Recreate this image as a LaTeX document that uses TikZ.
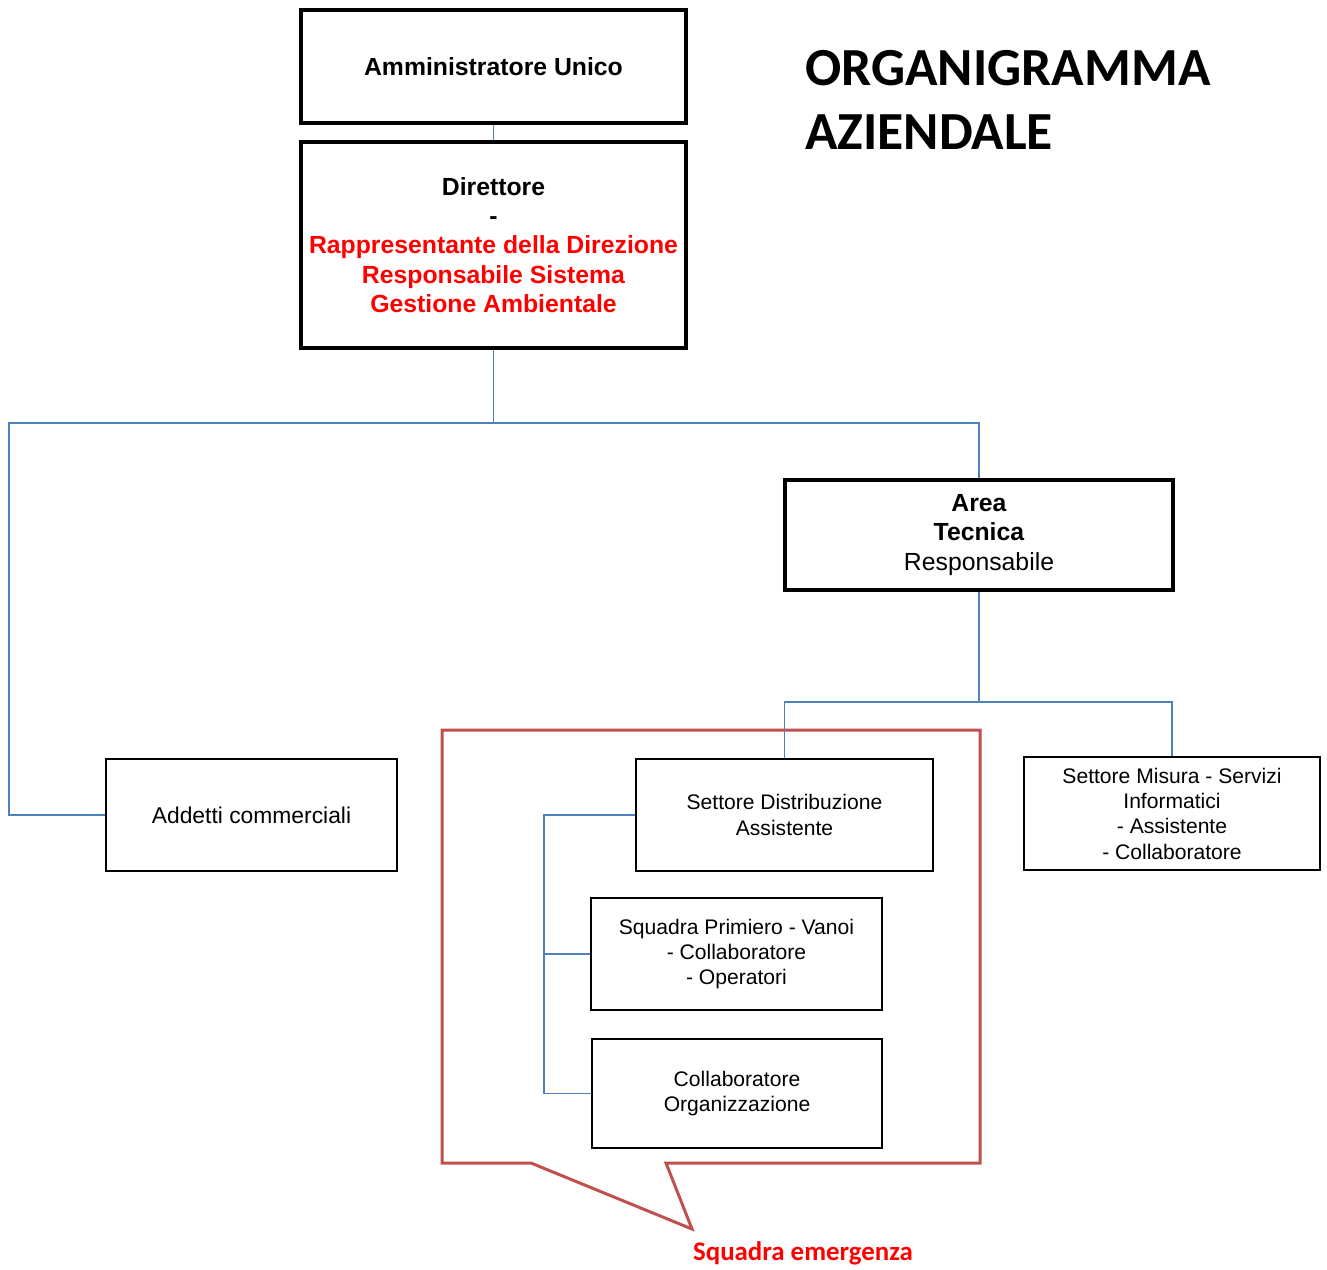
\documentclass[tikz,border=0pt]{standalone}
\usepackage{fontspec}
\setmainfont{Liberation Sans}
\newfontfamily\titlefont{Carlito}
\usepackage{tikz}
\definecolor{linkblue}{RGB}{79,129,189}
\definecolor{calloutred}{RGB}{192,80,77}
\tikzset{
  box/.style = {draw=black, fill=white, align=center, inner sep=2pt,
    font=\fontsize{12}{14.4}\selectfont, line width=1.4pt},
  bigbox/.style = {box, line width=2.3pt,
    font=\fontsize{14.1}{16.6}\selectfont},
  link/.style = {draw=linkblue, line width=0.75pt},
  callout/.style = {draw=calloutred, line width=1.7pt, line join=miter}
}

\begin{document}
\begin{tikzpicture}[x=0.02cm, y=-0.02cm]
    \useasboundingbox (0,0) rectangle (1327,1269);
    % squadra emergenza
    \draw [callout] (442,730) -- (980,730) -- (980,1163) -- (666,1163)
        -- (692,1229) -- (531,1163) -- (442,1163) -- cycle;
    \node [text=red, font=\titlefont\bfseries\fontsize{15.3}{18}\selectfont]
        (emerg) at (803,1253) {Squadra emergenza};
    % title
    \node [anchor=west, align=left, inner sep=0pt,
        font=\titlefont\bfseries\fontsize{30.5}{36.5}\selectfont]
        (title) at (805,100) {ORGANIGRAMMA\\AZIENDALE};
    % boxes
    \node [bigbox, minimum width=385*0.02cm, minimum height=113*0.02cm]
        (admin) at (493.5,66.5) {\textbf{Amministratore Unico}};
    \node [bigbox, minimum width=385*0.02cm, minimum height=206*0.02cm]
        (dir) at (493.5,245) {\textbf{Direttore}\\\textbf{-}\\
        \textcolor{red}{\textbf{Rappresentante della Direzione}}\\
        \textcolor{red}{\textbf{Responsabile Sistema}}\\
        \textcolor{red}{\textbf{Gestione Ambientale}}};
    \node [bigbox, minimum width=388*0.02cm, minimum height=110*0.02cm]
        (area) at (979,535) {\textbf{Area}\\\textbf{Tecnica}\\Responsabile};
    \node [box, minimum width=291*0.02cm, minimum height=112*0.02cm,
        font=\fontsize{13}{15.6}\selectfont]
        (comm) at (251.5,815) {Addetti commerciali};
    \node [box, minimum width=297*0.02cm, minimum height=112*0.02cm]
        (distr) at (784.5,815) {Settore Distribuzione\\Assistente};
    \node [box, minimum width=291*0.02cm, minimum height=112*0.02cm]
        (squad) at (736.5,954) {Squadra Primiero - Vanoi\\- Collaboratore\\- Operatori};
    \node [box, minimum width=290*0.02cm, minimum height=109*0.02cm]
        (coll) at (737,1093.5) {Collaboratore\\Organizzazione};
    \node [box, minimum width=296*0.02cm, minimum height=113*0.02cm]
        (misura) at (1172,813.5) {Settore Misura - Servizi\\Informatici\\- Assistente\\- Collaboratore};
    % connectors
    \coordinate (split) at (493.5,423);
    \coordinate (lft) at (9,423);
    \coordinate (split2) at (979,702);
    \coordinate (bus) at (544,815);
    \draw [link] (admin) -- (dir);
    \draw [link] (dir) -- (split);
    \draw [link] (area.north) |- (lft) |- (comm.west);
    \draw [link] (area) -- (split2);
    \draw [link] (distr.north) |- (split2) -| (misura.north);
    \draw [link] (distr.west) -- (bus) |- (coll.west);
    \draw [link] (bus) |- (squad.west);
\end{tikzpicture}
\end{document}
